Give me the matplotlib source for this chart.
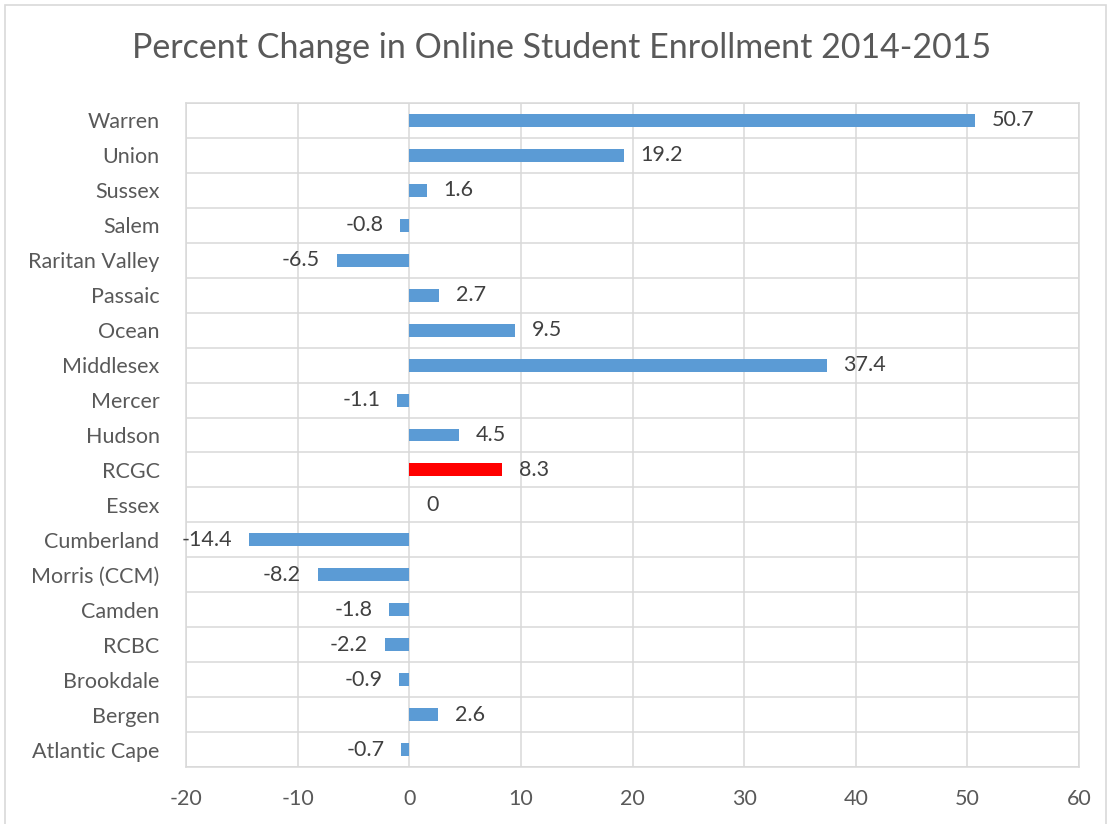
import matplotlib
matplotlib.use("Agg")
import matplotlib.pyplot as plt
from matplotlib.patches import Rectangle

categories = ["Warren", "Union", "Sussex", "Salem", "Raritan Valley", "Passaic",
              "Ocean", "Middlesex", "Mercer", "Hudson", "RCGC", "Essex",
              "Cumberland", "Morris (CCM)", "Camden", "RCBC", "Brookdale",
              "Bergen", "Atlantic Cape"]
values = [50.7, 19.2, 1.6, -0.8, -6.5, 2.7, 9.5, 37.4, -1.1, 4.5, 8.3, 0,
          -14.4, -8.2, -1.8, -2.2, -0.9, 2.6, -0.7]
highlight = "RCGC"
xticks = [-20, -10, 0, 10, 20, 30, 40, 50, 60]
title = "Percent Change in Online Student Enrollment 2014-2015"

plt.rcParams['font.family'] = ['Lato', 'DejaVu Sans']
text_color = "#595959"
grid_color = "#d9d9d9"
fs = 15.5

fig = plt.figure(figsize=(11.11, 8.24), dpi=100)
ax = fig.add_axes([186/1111, 1-767/824, (1079-186)/1111, (767-103)/824])

n = len(categories)
ypos = list(range(n - 1, -1, -1))
colors = ["#FF0000" if c == highlight else "#5B9BD5" for c in categories]
ax.barh(ypos, values, height=0.37, color=colors, zorder=3)

ax.set_xlim(-20, 60)
ax.set_ylim(-0.5, n - 0.5)
ax.set_xticks(xticks)
ax.set_xticklabels([str(t) for t in xticks])
ax.set_yticks(ypos)
ax.set_yticklabels(categories)
ax.set_yticks([y - 0.5 for y in range(n + 1)], minor=True)
ax.tick_params(axis='both', which='both', length=0, colors=text_color, labelsize=fs)
ax.tick_params(axis='x', pad=16)
ax.tick_params(axis='y', pad=19)
ax.grid(True, axis='x', which='major', color=grid_color, linewidth=1.1, zorder=0)
ax.grid(True, axis='y', which='minor', color=grid_color, linewidth=1.1, zorder=0)
for s in ax.spines.values():
    s.set_color(grid_color)
    s.set_linewidth(1.1)

for y, v in zip(ypos, values):
    if v < 0:
        ax.annotate(f"{v:g}", (v, y), xytext=(-12, 0), textcoords="offset points",
                    ha="right", va="center", fontsize=fs, color="#404040")
    else:
        ax.annotate(f"{v:g}", (v, y), xytext=(12, 0), textcoords="offset points",
                    ha="left", va="center", fontsize=fs, color="#404040")

fig.text(562/1111, 1-48/824, title, ha="center", va="center", fontsize=24.5, color=text_color)

fig.patches.append(Rectangle((5/1111, -0.1), (1106-5)/1111, 1.1 - 5/824,
                             transform=fig.transFigure, fill=False,
                             edgecolor=grid_color, linewidth=1.2))

fig.savefig("out.png", dpi=100)
